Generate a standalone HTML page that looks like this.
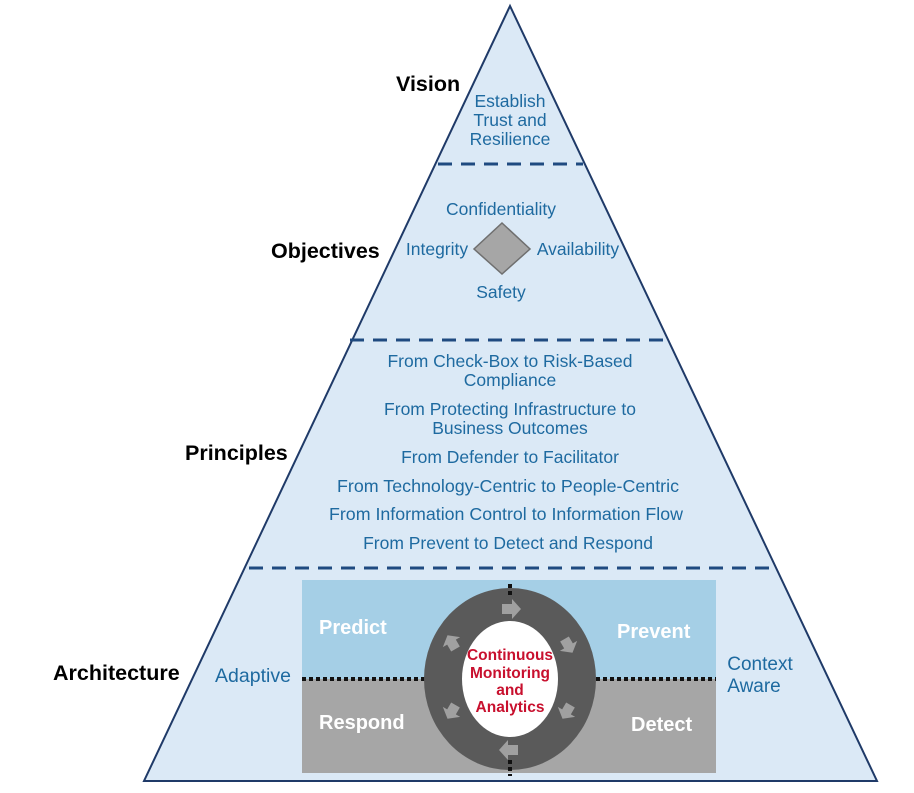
<!DOCTYPE html>
<html><head><meta charset="utf-8"><style>
html,body{margin:0;padding:0;background:#fff;}
svg{display:block;}
text{font-family:"Liberation Sans",Arial,sans-serif;}
.b{fill:#1e6aa0;font-size:17.5px;text-anchor:middle;}
.k{fill:#000;font-size:21.5px;font-weight:bold;}
.w{fill:#fff;font-size:20px;font-weight:bold;}
</style></head><body>
<svg width="914" height="793" viewBox="0 0 914 793">
<polygon points="510,6 144,781 877,781" fill="#dbe9f6" stroke="#1f3a68" stroke-width="2"/>
<g stroke="#1f4a80" stroke-width="3" stroke-dasharray="14,9">
<line x1="438" y1="164" x2="583" y2="164"/>
<line x1="350" y1="340" x2="671" y2="340"/>
<line x1="249" y1="568" x2="773" y2="568"/>
</g>
<text class="k" x="396" y="91">Vision</text>
<text class="b" x="510" y="107">Establish</text>
<text class="b" x="510" y="126">Trust and</text>
<text class="b" x="510" y="145">Resilience</text>
<text class="k" x="271" y="258">Objectives</text>
<text class="b" x="501" y="215">Confidentiality</text>
<text class="b" x="437" y="255">Integrity</text>
<text class="b" x="578" y="255">Availability</text>
<text class="b" x="501" y="298">Safety</text>
<polygon points="502,223 530,249 502,274 474,249" fill="#a6a6a6" stroke="#6f6f6f" stroke-width="1.5"/>
<text class="k" x="185" y="460">Principles</text>
<text class="b" x="510" y="367">From Check-Box to Risk-Based</text>
<text class="b" x="510" y="386">Compliance</text>
<text class="b" x="510" y="415">From Protecting Infrastructure to</text>
<text class="b" x="510" y="434">Business Outcomes</text>
<text class="b" x="510" y="463">From Defender to Facilitator</text>
<text class="b" x="508" y="492" textLength="342" lengthAdjust="spacingAndGlyphs">From Technology-Centric to People-Centric</text>
<text class="b" x="506" y="520" textLength="354" lengthAdjust="spacingAndGlyphs">From Information Control to Information Flow</text>
<text class="b" x="508" y="549">From Prevent to Detect and Respond</text>
<text class="k" x="53" y="680">Architecture</text>
<text class="b" x="253" y="682" style="font-size:19.5px">Adaptive</text>
<text class="b" x="760" y="670" style="font-size:19px">Context</text>
<text class="b" x="754" y="692" style="font-size:19px">Aware</text>
<rect x="302" y="580" width="414" height="99" fill="#a5cfe6"/>
<rect x="302" y="679" width="414" height="94" fill="#a6a6a6"/>
<line x1="302" y1="679" x2="716" y2="679" stroke="#111" stroke-width="4" stroke-dasharray="4,3"/>
<ellipse cx="510" cy="679" rx="86" ry="91" fill="#5a5a5a"/>
<line x1="510" y1="584" x2="510" y2="597" stroke="#111" stroke-width="4" stroke-dasharray="4,3"/>
<line x1="510" y1="760" x2="510" y2="776" stroke="#111" stroke-width="4" stroke-dasharray="4,3"/>
<ellipse cx="510" cy="679" rx="48" ry="58" fill="#fff"/>
<g fill="#a0a0a0">
<polygon points="502,604 512,604 512,599 521,609 512,619 512,614 502,614"/>
<polygon points="518,745 508,745 508,740 499,750 508,760 508,755 518,755"/>
<polygon transform="rotate(60 568 645)" points="561,640 569,640 569,635 577,645 569,655 569,650 561,650"/>
<polygon transform="rotate(120 567 711)" points="560,706 568,706 568,701 576,711 568,721 568,716 560,716"/>
<polygon transform="rotate(240 452 643)" points="445,638 453,638 453,633 461,643 453,653 453,648 445,648"/>
<polygon transform="rotate(-60 452 711) rotate(180 452 711)" points="445,706 453,706 453,701 461,711 453,721 453,716 445,716"/>
</g>
<g fill="#c8102e" font-size="15.5" font-weight="bold" text-anchor="middle">
<text x="510" y="660">Continuous</text>
<text x="510" y="678">Monitoring</text>
<text x="510" y="695">and</text>
<text x="510" y="712">Analytics</text>
</g>
<text class="w" x="319" y="634">Predict</text>
<text class="w" x="617" y="638">Prevent</text>
<text class="w" x="319" y="729">Respond</text>
<text class="w" x="631" y="731">Detect</text>
</svg>
</body></html>
